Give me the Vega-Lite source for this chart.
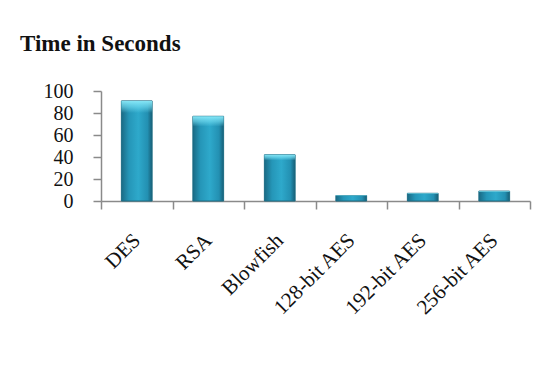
{
  "$schema": "https://vega.github.io/schema/vega-lite/v6.json",
  "width": 429,
  "height": 110,
  "autosize": {"type": "none"},
  "padding": {"left": 101, "top": 91, "right": 28, "bottom": 168},
  "background": "white",
  "title": {
    "text": "Time in Seconds",
    "anchor": "start",
    "frame": "group",
    "font": "Liberation Serif",
    "fontSize": 23,
    "fontWeight": "bold",
    "color": "#111111",
    "baseline": "alphabetic",
    "dx": -81,
    "offset": 7
  },
  "data": {
    "values": [
      {"algorithm": "DES", "seconds": 91},
      {"algorithm": "RSA", "seconds": 77},
      {"algorithm": "Blowfish", "seconds": 42},
      {"algorithm": "128-bit AES", "seconds": 5},
      {"algorithm": "192-bit AES", "seconds": 7},
      {"algorithm": "256-bit AES", "seconds": 9}
    ]
  },
  "encoding": {
    "x": {
      "field": "algorithm",
      "type": "nominal",
      "sort": null,
      "scale": {"paddingInner": 0, "paddingOuter": 0},
      "axis": {
        "title": null,
        "labelAngle": -45,
        "labelAlign": "right",
        "labelBaseline": "middle",
        "labelFont": "Liberation Serif",
        "labelFontSize": 21,
        "labelColor": "#111111",
        "labelPadding": 28,
        "labelOverlap": false,
        "tickBand": "extent",
        "tickSize": 8,
        "tickColor": "#8a8a8a",
        "tickWidth": 1.5,
        "domainColor": "#8a8a8a",
        "domainWidth": 1.5
      }
    },
    "y": {
      "field": "seconds",
      "type": "quantitative",
      "scale": {"domain": [0, 100], "nice": false},
      "axis": {
        "title": null,
        "values": [0, 20, 40, 60, 80, 100],
        "grid": false,
        "labelFont": "Liberation Serif",
        "labelFontSize": 20,
        "labelColor": "#111111",
        "labelPadding": 20,
        "labelOverlap": false,
        "labelFlush": false,
        "tickSize": 8,
        "tickColor": "#8a8a8a",
        "tickWidth": 1.5,
        "domainColor": "#8a8a8a",
        "domainWidth": 1.5
      }
    }
  },
  "layer": [
    {
      "mark": {
        "type": "bar",
        "width": {"band": 0.43},
        "stroke": "#1d6c84",
        "strokeWidth": 1,
        "fill": {
          "gradient": "linear",
          "x1": 0, "y1": 0, "x2": 1, "y2": 0,
          "stops": [
            {"offset": 0, "color": "#1a6a84"},
            {"offset": 0.25, "color": "#2596b8"},
            {"offset": 0.55, "color": "#2ea9cb"},
            {"offset": 0.85, "color": "#2390b2"},
            {"offset": 1, "color": "#175f77"}
          ]
        }
      }
    },
    {
      "mark": {
        "type": "bar",
        "width": {"band": 0.43},
        "fill": {
          "gradient": "linear",
          "x1": 0, "y1": 0, "x2": 0, "y2": 1,
          "stops": [
            {"offset": 0, "color": "rgba(140,235,250,0.95)"},
            {"offset": 0.06, "color": "rgba(120,225,245,0.6)"},
            {"offset": 0.12, "color": "rgba(120,225,245,0)"},
            {"offset": 1, "color": "rgba(120,225,245,0)"}
          ]
        }
      }
    }
  ],
  "config": {
    "view": {"stroke": null}
  }
}
